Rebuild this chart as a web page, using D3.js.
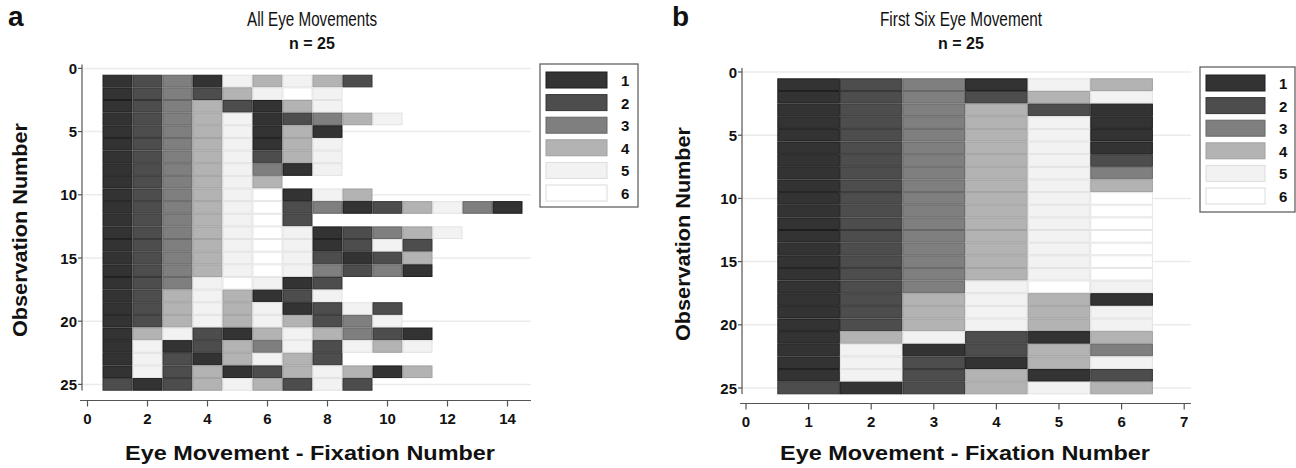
<!DOCTYPE html>
<html><head><meta charset="utf-8">
<script src="https://cdn.jsdelivr.net/npm/d3@7"></script>
<style>body{margin:0;background:#fff}svg{display:block}</style>
</head><body>
<svg id="c" width="1296" height="468"></svg>
<script>
// Fixation category sequences for each observation (row 1..25)
const sequences = [
  [1,2,3,1,5,4,5,4,2],
  [1,2,3,2,4,5,6,5],
  [1,2,3,4,2,1,4,5],
  [1,2,3,4,5,1,2,3,4,5],
  [1,2,3,4,5,1,4,1],
  [1,2,3,4,5,1,4,5],
  [1,2,3,4,5,2,4,5],
  [1,2,3,4,5,3,1,5],
  [1,2,3,4,5,4],
  [1,2,3,4,5,6,1,5,4],
  [1,2,3,4,5,6,2,3,1,2,4,5,3,1],
  [1,2,3,4,5,6,2],
  [1,2,3,4,5,6,5,1,2,3,4,5],
  [1,2,3,4,5,6,5,1,2,5,2],
  [1,2,3,4,5,6,5,2,1,2,4],
  [1,2,3,4,5,6,5,3,2,3,1],
  [1,2,3,5,6,5,1,2],
  [1,2,4,5,4,1,2,5],
  [1,2,4,5,4,5,1,2,5,2],
  [1,2,4,5,4,5,4,2,3,5],
  [1,4,5,2,1,4,5,4,3,2,1],
  [1,5,1,2,4,3,5,2,5,4,5],
  [1,5,2,1,4,5,4,2],
  [1,5,2,4,1,2,4,5,4,1,4],
  [2,1,2,4,5,4,2,5,2]
];
const categories = [1,2,3,4,5,6];
const fills   = ["#333333","#4d4d4d","#7f7f7f","#b3b3b3","#f2f2f2","#ffffff"];
const strokes = ["#1e1e1e","#363636","#666666","#a0a0a0","#e2e2e2","#e6e6e6"];
const yTicks = [0,5,10,15,20,25];
const xTicksA = [0,2,4,6,8,10,12,14];
const xTicksB = [0,1,2,3,4,5,6,7];

const svg = d3.select("#c");
const font = "'Liberation Sans', Arial, Helvetica, sans-serif";
const color = d3.scaleOrdinal().domain(categories).range(fills);
const scolor = d3.scaleOrdinal().domain(categories).range(strokes);

function panel(cfg){
  const g = svg.append("g");
  const x = d3.scaleLinear().domain(cfg.xDomain).range(cfg.xRange);
  const y = d3.scaleLinear().domain([0,25]).range(cfg.yRange);
  const left = cfg.axisLeft, right = cfg.plotRight, axisY = cfg.axisY;
  // gridlines
  g.selectAll("line.grid").data(yTicks).join("line")
    .attr("x1", left).attr("x2", right)
    .attr("y1", d=>y(d)).attr("y2", d=>y(d))
    .attr("stroke","#ebebeb").attr("stroke-width",1.5);
  // cells
  const cells = [];
  cfg.data.forEach((seq,i)=>seq.forEach((c,j)=>cells.push({row:i+1,fix:j+1,cat:c})));
  g.selectAll("rect.cell").data(cells).join("rect")
    .attr("x", d=>x(d.fix-0.5)+0.5)
    .attr("width", d=>x(d.fix+0.5)-x(d.fix-0.5)-1)
    .attr("y", d=>y(d.row-0.5)+0.5)
    .attr("height", d=>y(d.row+0.5)-y(d.row-0.5)-1)
    .attr("fill", d=>color(d.cat))
    .attr("stroke", d=>scolor(d.cat)).attr("stroke-width",1);
  // y axis
  g.append("line").attr("x1",left).attr("x2",left)
    .attr("y1",y(0)-4).attr("y2",y(25)+6).attr("stroke","#555").attr("stroke-width",1.2);
  g.selectAll("line.yt").data(yTicks).join("line")
    .attr("x1",left-4).attr("x2",left).attr("y1",d=>y(d)).attr("y2",d=>y(d))
    .attr("stroke","#555").attr("stroke-width",1.2);
  g.selectAll("text.yl").data(yTicks).join("text")
    .attr("x",left-5).attr("y",d=>y(d)+5.5)
    .attr("text-anchor","end").attr("font-family",font).attr("font-weight","bold")
    .attr("font-size",15).attr("fill","#111").text(d=>d);
  // x axis
  g.append("line").attr("x1",left-2).attr("x2",right)
    .attr("y1",axisY).attr("y2",axisY).attr("stroke","#555").attr("stroke-width",1.2);
  g.selectAll("line.xt").data(cfg.xTicks).join("line")
    .attr("x1",d=>x(d)).attr("x2",d=>x(d)).attr("y1",axisY).attr("y2",axisY+6)
    .attr("stroke","#555").attr("stroke-width",1.2);
  g.selectAll("text.xl").data(cfg.xTicks).join("text")
    .attr("x",d=>x(d)).attr("y",axisY+23)
    .attr("text-anchor","middle").attr("font-family",font).attr("font-weight","bold")
    .attr("font-size",15).attr("fill","#111").text(d=>d);
  // axis titles
  g.append("text").attr("x",cfg.xTitleX).attr("y",460)
    .attr("text-anchor","middle").attr("font-family",font).attr("font-weight","bold")
    .attr("font-size",20).attr("textLength",370).attr("lengthAdjust","spacingAndGlyphs")
    .attr("fill","#111").text("Eye Movement - Fixation Number");
  g.append("text").attr("transform",`translate(${cfg.yTitleX},${cfg.yTitleY}) rotate(-90)`)
    .attr("text-anchor","middle").attr("font-family",font).attr("font-weight","bold")
    .attr("font-size",20).attr("textLength",214).attr("lengthAdjust","spacingAndGlyphs")
    .attr("fill","#111").text("Observation Number");
  // titles
  g.append("text").attr("x",cfg.titleX).attr("y",26)
    .attr("text-anchor","middle").attr("font-family",font)
    .attr("font-size",21).attr("textLength",cfg.titleW).attr("lengthAdjust","spacingAndGlyphs")
    .attr("fill","#111").text(cfg.title);
  g.append("text").attr("x",cfg.titleX).attr("y",49)
    .attr("text-anchor","middle").attr("font-family",font).attr("font-weight","bold")
    .attr("font-size",16).attr("fill","#111").text("n = 25");
  g.append("text").attr("x",cfg.letterX).attr("y",26)
    .attr("font-family",font).attr("font-weight","bold")
    .attr("font-size",28).attr("fill","#111").text(cfg.letter);
  // legend
  const L = cfg.legend;
  g.append("rect").attr("x",L.x).attr("y",L.y).attr("width",L.w).attr("height",L.h)
    .attr("fill","#fff").attr("stroke","#555").attr("stroke-width",1.2);
  const lg = g.selectAll("g.leg").data(categories).join("g")
    .attr("transform",(d,i)=>`translate(${L.x+6},${L.y+8+i*22.6})`);
  lg.append("rect").attr("width",L.sw).attr("height",16)
    .attr("fill",d=>color(d)).attr("stroke",d=>d>=5?"#dcdcdc":scolor(d)).attr("stroke-width",1);
  lg.append("text").attr("x",L.sw+14).attr("y",14)
    .attr("font-family",font).attr("font-weight","bold").attr("font-size",15)
    .attr("fill","#111").text(d=>d);
}

panel({
  data: sequences,
  xDomain:[0,15], xRange:[87.5, 537.5],
  yRange:[68.4, 384.4],
  axisLeft:82, plotRight:531, axisY:400.5,
  xTicks:xTicksA, yTitleX:27, yTitleY:230, xTitleX:310,
  titleX:312, titleW:130, letterX:8, letter:"a",
  title:"All Eye Movements",
  legend:{x:540,y:64,w:98,h:143,sw:61}
});
panel({
  data: sequences.map(s=>s.slice(0,6)),
  xDomain:[0,7], xRange:[746, 1184.2],
  yRange:[72, 388],
  axisLeft:742, plotRight:1191, axisY:403.5,
  xTicks:xTicksB, yTitleX:690, yTitleY:234, xTitleX:965,
  titleX:961, titleW:162, letterX:672, letter:"b",
  title:"First Six Eye Movement",
  legend:{x:1200,y:67,w:95,h:145,sw:59}
});
</script>
</body></html>
